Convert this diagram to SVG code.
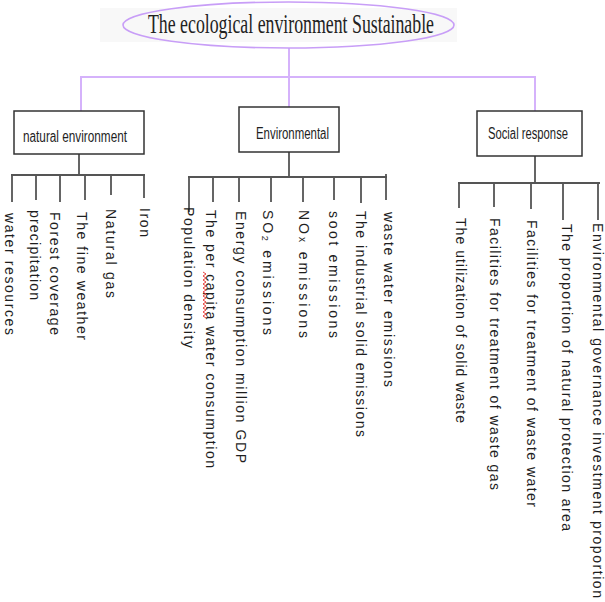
<svg xmlns="http://www.w3.org/2000/svg" width="605" height="602" viewBox="0 0 605 602">
<style>
.purple{stroke:#d5b2fb;stroke-width:2;fill:none}
.box{fill:#ffffff;stroke:#333333;stroke-width:1.5}
.conn{stroke:#333333;stroke-width:1.5;fill:none}
.bar{stroke:#555555;stroke-width:2.2;fill:none}
.lbl{font-family:"Liberation Sans",Arial,sans-serif;font-size:14px;fill:#1e1e1e}
.head{font-family:"Liberation Sans",Arial,sans-serif;font-size:16px;fill:#1e1e1e}
.title{font-family:"Liberation Serif","Times New Roman",serif;font-size:28px;fill:#222222}
</style>
<rect x="0" y="0" width="605" height="602" fill="#ffffff"/>
<g id="connectors">
<path class="purple" d="M289,48 V107 M81,111 V77 H535 V111"/>
<path class="conn" d="M79,154 V175 M12,175 V202 M36,175 V200 M60,175 V202 M85,175 V200 M111,175 V195 M144,175 V198"/>
<path class="bar" d="M11,175 H145"/>
<path class="conn" d="M289,152 V177 M189,177 V212 M213,177 V202 M239,177 V202 M271,177 V202 M303,177 V202 M334,177 V200 M361,177 V203 M386,174 V200"/>
<path class="bar" d="M188,177 H387"/>
<path class="conn" d="M535,156 V183 M459,183 V208 M494,183 V207 M531,183 V209 M563,183 V220 M598,183 V220"/>
<path class="bar" d="M458,183 H600"/>
</g>
<g id="title">
<rect x="100" y="8" width="357" height="34" fill="#f8f8f8"/>
<ellipse cx="288.5" cy="25" rx="165.5" ry="23" fill="none" stroke="#c89ef7" stroke-width="1.6"/>
<text class="title" x="148" y="33" textLength="286" lengthAdjust="spacingAndGlyphs">The ecological environment Sustainable</text>
</g>
<g id="natural-environment">
<rect class="box" x="14" y="111" width="130" height="43"/>
<text class="head" x="23" y="142" textLength="104" lengthAdjust="spacingAndGlyphs">natural environment</text>
</g>
<g id="environmental">
<rect class="box" x="239" y="107" width="100" height="45"/>
<text class="head" x="256" y="139" textLength="73" lengthAdjust="spacingAndGlyphs">Environmental</text>
</g>
<g id="social-response">
<rect class="box" x="477" y="111" width="105" height="45"/>
<text class="head" x="488" y="139" textLength="80" lengthAdjust="spacingAndGlyphs">Social response</text>
</g>
<g id="natural-items">
<text class="lbl" transform="translate(5,213) rotate(90)" textLength="122" lengthAdjust="spacing">water resources</text>
<text class="lbl" transform="translate(30,210) rotate(90)" textLength="90" lengthAdjust="spacing">precipitation</text>
<text class="lbl" transform="translate(50,212) rotate(90)" textLength="123" lengthAdjust="spacing">Forest coverage</text>
<text class="lbl" transform="translate(77,212) rotate(90)" textLength="128" lengthAdjust="spacing">The fine weather</text>
<text class="lbl" transform="translate(106,209) rotate(90)" textLength="89" lengthAdjust="spacing">Natural gas</text>
<text class="lbl" transform="translate(140,208) rotate(90)" textLength="29" lengthAdjust="spacing">Iron</text>
</g>
<g id="environmental-items">
<text class="lbl" transform="translate(184,207) rotate(90)" textLength="141" lengthAdjust="spacing">Population density</text>
<text class="lbl" transform="translate(206,210) rotate(90)" textLength="258" lengthAdjust="spacing">The per capita water consumption</text>
<path d="M203,272 l3,2 l-3,2 l3,2 l-3,2 l3,2 l-3,2 l3,2 l-3,2 l3,2 l-3,2 l3,2 l-3,2 l3,2 l-3,2 l3,2 l-3,2 l3,2 l-3,2 l3,2 l-3,2 l3,2 l-3,2 l3,2" fill="none" stroke="#e84040" stroke-width="1"/>
<text class="lbl" transform="translate(236,211) rotate(90)" textLength="252" lengthAdjust="spacing">Energy consumption million GDP</text>
<text class="lbl" transform="translate(263,210) rotate(90)" textLength="125" lengthAdjust="spacing">SO<tspan font-size="9" dy="1">2</tspan><tspan dy="-1">  emissions</tspan></text>
<text class="lbl" transform="translate(299,210) rotate(90)" textLength="128" lengthAdjust="spacing">NO<tspan font-size="10">x</tspan>  emissions</text>
<text class="lbl" transform="translate(329,211) rotate(90)" textLength="127" lengthAdjust="spacing">soot  emissions</text>
<text class="lbl" transform="translate(356,211) rotate(90)" textLength="226" lengthAdjust="spacing">The industrial solid emissions</text>
<text class="lbl" transform="translate(384,212) rotate(90)" textLength="175" lengthAdjust="spacing">waste water emissions</text>
</g>
<g id="social-items">
<text class="lbl" transform="translate(456,218) rotate(90)" textLength="205" lengthAdjust="spacing">The utilization of solid waste</text>
<text class="lbl" transform="translate(490,218) rotate(90)" textLength="272" lengthAdjust="spacing">Facilities for treatment of waste gas</text>
<text class="lbl" transform="translate(527,220) rotate(90)" textLength="287" lengthAdjust="spacing">Facilities for treatment of waste water</text>
<text class="lbl" transform="translate(562,224) rotate(90)" textLength="307" lengthAdjust="spacing">The proportion of natural protection area</text>
<text class="lbl" transform="translate(593,223) rotate(90)" textLength="375" lengthAdjust="spacing">Environmental governance investment proportion</text>
</g>
</svg>
